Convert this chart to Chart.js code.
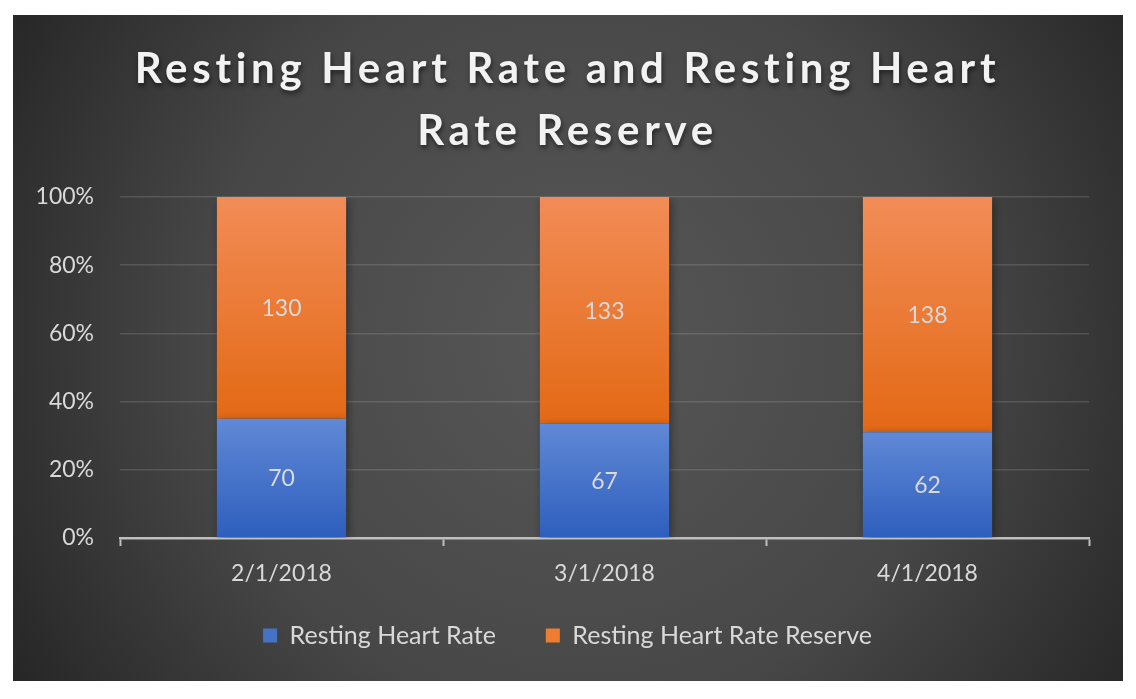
<!DOCTYPE html>
<html>
<head>
<meta charset="utf-8">
<script src="https://cdn.jsdelivr.net/npm/chart.js@4/dist/chart.umd.min.js"></script>
<style>
  html, body { margin: 0; padding: 0; background: #ffffff; overflow: hidden; }
  #wrap { width: 1136px; height: 699px; position: relative; }
</style>
</head>
<body>
<div id="wrap"><canvas id="chart" width="1136" height="699"></canvas></div>
<script>
const dates = ["2/1/2018", "3/1/2018", "4/1/2018"];
const restingHR = [70, 67, 62];
const hrReserve = [130, 133, 138];
const yTicks = [0, 20, 40, 60, 80, 100];

// 100% stacked: turn the counts into shares of each bar
const totals = dates.map((d, i) => restingHR[i] + hrReserve[i]);
const hrPct = restingHR.map((v, i) => v / totals[i] * 100);
const resPct = hrReserve.map((v, i) => v / totals[i] * 100);

const FONT = "Lato, 'Open Sans', sans-serif";
const TEXT = "#d9d9d9";

// panel background, radial gray gradient
const panelBg = {
  id: "panelBg",
  beforeDraw(chart) {
    const c = chart.ctx;
    const x0 = 13, y0 = 15, w = 1110, h = 666;
    const cx = 580, cy = 340;
    const g = c.createRadialGradient(cx, cy, 0, cx, cy, 680);
    g.addColorStop(0, "#575757");
    g.addColorStop(0.55, "#474747");
    g.addColorStop(1, "#242424");
    c.save();
    c.fillStyle = g;
    c.fillRect(x0, y0, w, h);
    c.restore();

    // title gets letter spacing and a soft drop shadow
    const tb = chart.titleBlock;
    if (tb && !tb._styled) {
      const orig = tb.draw;
      tb.draw = function () {
        c.save();
        c.letterSpacing = "4.7px";
        c.shadowColor = "rgba(0,0,0,0.55)";
        c.shadowBlur = 5;
        c.shadowOffsetX = 1;
        c.shadowOffsetY = 3;
        orig.apply(this, arguments);
        c.restore();
      };
      tb._styled = true;
    }
  }
};

// shadow under bars
const barShadow = {
  id: "barShadow",
  beforeDatasetsDraw(chart) {
    const c = chart.ctx;
    c.save();
    c.shadowColor = "rgba(0,0,0,0.45)";
    c.shadowBlur = 9;
    c.shadowOffsetX = 2;
    c.shadowOffsetY = 2;
  },
  afterDatasetsDraw(chart) {
    chart.ctx.restore();
    // value labels in the middle of each segment
    const c = chart.ctx;
    c.save();
    c.font = "23px " + FONT;
    c.fillStyle = TEXT;
    c.textAlign = "center";
    c.textBaseline = "middle";
    chart.data.datasets.forEach((ds, di) => {
      chart.getDatasetMeta(di).data.forEach((bar, i) => {
        const p = bar.getProps(["x", "y", "base"], true);
        c.fillText(String(ds.raw[i]), p.x, (p.y + p.base) / 2 + 1);
      });
    });
    c.restore();
  }
};

function segGradient(ctx, top, bottom, light, dark) {
  const chart = ctx.chart;
  const ys = chart.scales && chart.scales.y;
  if (!ys || !chart.chartArea) return dark;
  const i = ctx.dataIndex;
  const y1 = ys.getPixelForValue(top[i]);
  const y2 = ys.getPixelForValue(bottom[i]);
  const g = chart.ctx.createLinearGradient(0, y1, 0, y2);
  g.addColorStop(0, light);
  g.addColorStop(1, dark);
  return g;
}

new Chart(document.getElementById("chart"), {
  type: "bar",
  data: {
    labels: dates,
    datasets: [
      {
        label: "Resting Heart Rate",
        data: hrPct,
        raw: restingHR,
        backgroundColor: ctx => segGradient(ctx, hrPct, hrPct.map(() => 0), "#6089d6", "#2e5ebd"),
        borderWidth: 0,
        barPercentage: 0.8,
        categoryPercentage: 0.5
      },
      {
        label: "Resting Heart Rate Reserve",
        data: resPct,
        raw: hrReserve,
        backgroundColor: ctx => segGradient(ctx, hrPct.map(() => 100), hrPct, "#f28c57", "#e36915"),
        borderWidth: 0,
        barPercentage: 0.8,
        categoryPercentage: 0.5
      }
    ]
  },
  options: {
    responsive: false,
    animation: false,
    devicePixelRatio: 1,
    layout: { padding: { left: 23, right: 24, top: 38, bottom: 41 } },
    plugins: {
      tooltip: { enabled: false },
      title: {
        display: true,
        text: ["Resting Heart Rate and Resting Heart", "Rate Reserve"],
        color: "#f2f2f2",
        font: { family: FONT, size: 42, weight: "bold", lineHeight: 1.476 },
        padding: { top: 0, bottom: 35 }
      },
      legend: {
        position: "bottom",
        labels: {
          color: TEXT,
          font: { family: FONT, size: 25 },
          boxWidth: 14,
          boxHeight: 14,
          padding: 50,
          generateLabels(chart) {
            const solid = ["#4472c4", "#ed7d31"];
            return chart.data.datasets.map((ds, i) => ({
              text: ds.label,
              fillStyle: solid[i],
              strokeStyle: solid[i],
              lineWidth: 0,
              fontColor: TEXT,
              datasetIndex: i
            }));
          }
        }
      }
    },
    scales: {
      x: {
        stacked: true,
        afterFit(scale) {
          scale.height = 35;
          // let the date labels spill below the squeezed axis box
          scale._computeLabelArea = () => undefined;
        },
        grid: {
          display: true,
          drawOnChartArea: false,
          drawTicks: true,
          tickLength: 8,
          tickWidth: 2,
          tickColor: "#bfbfbf"
        },
        border: { display: true, color: "#bfbfbf", width: 2.5 },
        ticks: {
          color: TEXT,
          font: { family: FONT, size: 23 },
          padding: 14
        }
      },
      y: {
        stacked: true,
        min: 0,
        max: 100,
        afterFit(scale) { scale.width = 97; },
        afterBuildTicks(scale) { scale.ticks = yTicks.map(v => ({ value: v })); },
        grid: {
          color: "rgba(255,255,255,0.13)",
          lineWidth: 1.5,
          drawTicks: false
        },
        border: { display: false },
        ticks: {
          color: TEXT,
          font: { family: FONT, size: 23 },
          padding: 26,
          callback: v => v + "%"
        }
      },
      // empty right gutter so title and legend centre like the original
      gutter: {
        type: "linear",
        position: "right",
        display: true,
        afterFit(scale) { scale.width = 23; },
        grid: { display: false },
        border: { display: false },
        ticks: { display: false }
      }
    }
  },
  plugins: [panelBg, barShadow]
});
</script>
</body>
</html>
